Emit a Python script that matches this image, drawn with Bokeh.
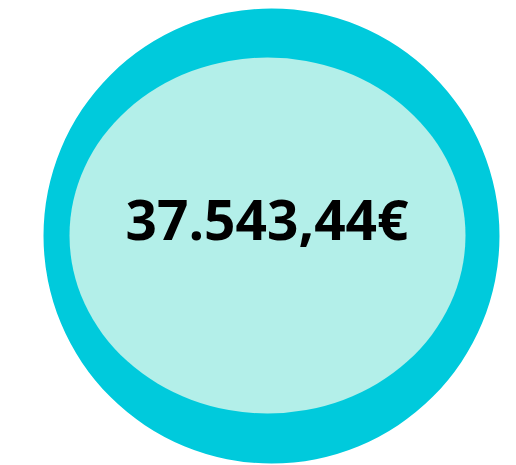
from bokeh.plotting import figure
from bokeh.models import Range1d, ColumnDataSource
from bokeh.core.properties import value
from bokeh.embed import file_html
from bokeh.resources import INLINE

# data
amounts = [37543.44]
currency = ["€"]

def fmt(v):
    s = f"{v:,.2f}"
    return s.replace(",", "X").replace(".", ",").replace("X", ".")

labels = [fmt(a) + c for a, c in zip(amounts, currency)]

W, H = 516, 465
p = figure(width=W, height=H, output_backend="svg", toolbar_location=None,
           x_range=Range1d(0, W), y_range=Range1d(H, 0),
           min_border=0)
p.axis.visible = False
p.grid.visible = False
p.outline_line_color = None
p.background_fill_color = "white"
p.border_fill_color = "white"

# outer ring
p.ellipse(x=[271], y=[235.5], width=[456], height=[455],
          fill_color="#00CADC", line_color=None)
# inner disc
p.ellipse(x=[267], y=[235], width=[396], height=[356],
          fill_color="#B3EFE9", line_color=None)

src = ColumnDataSource(dict(x=[266.5], y=[218], t=labels))
p.text(x="x", y="y", text="t", source=src, text_align="center",
       text_baseline="middle", text_font=value("Open Sans"),
       text_font_style="bold", text_font_size="55px", text_color="black")

open("out.html", "w").write(file_html(p, INLINE))
